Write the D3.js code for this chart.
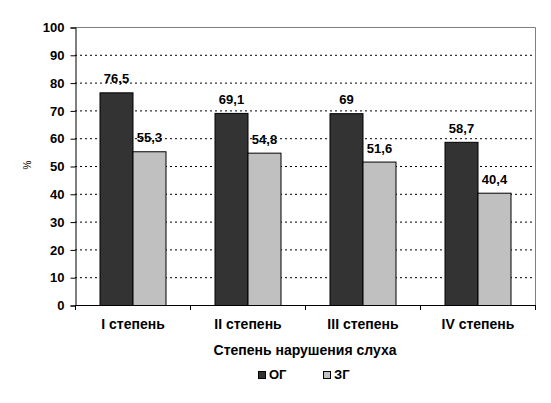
<!DOCTYPE html>
<html><head><meta charset="utf-8">
<script src="https://cdn.jsdelivr.net/npm/d3@7"></script>
<style>body{margin:0;background:#fff;} text{font-family:"Liberation Sans",Arial,sans-serif;font-weight:bold;}</style>
</head><body>
<svg id="c" width="551" height="403"></svg>
<script>
const categories = ["I степень","II степень","III степень","IV степень"];
const seriesNames = ["ОГ","ЗГ"];
const valuesOG = [76.5,69.1,69,58.7];
const valuesZG = [55.3,54.8,51.6,40.4];
const labelsOG = ["76,5","69,1","69","58,7"];
const labelsZG = ["55,3","54,8","51,6","40,4"];
const yTicks = [0,10,20,30,40,50,60,70,80,90,100];
const colors = ["#333333","#c0c0c0"];

const svg = d3.select("#c");
const L=75,R=535,T=27,B=305;
const x = d3.scaleBand().domain(categories).range([L,R]);
const xs = d3.scaleBand().domain(seriesNames).range([0,66]);
const y = d3.scaleLinear().domain([0,100]).range([B,T]);

// gridlines
svg.append("g").selectAll("line").data(yTicks.filter(d=>d>0&&d<100)).join("line")
 .attr("x1",L).attr("x2",R).attr("y1",d=>y(d)+0.5).attr("y2",d=>y(d)+0.5)
 .attr("stroke","#000").attr("stroke-dasharray","2,3");
// border top/right
svg.append("path").attr("d",`M${L},${T+0.5}H${R+0.5}V${B}`).attr("fill","none").attr("stroke","#808080");

const data = categories.map((c,i)=>[{c,s:seriesNames[0],v:valuesOG[i],l:labelsOG[i]},{c,s:seriesNames[1],v:valuesZG[i],l:labelsZG[i]}]).flat();
const bx = d=>x(d.c)+x.bandwidth()/2-33+xs(d.s);
svg.append("g").selectAll("rect").data(data).join("rect")
 .attr("x",d=>bx(d)+0.5).attr("y",d=>y(d.v)+0.5).attr("width",xs.bandwidth()).attr("height",d=>B-y(d.v))
 .attr("fill",d=>colors[seriesNames.indexOf(d.s)]).attr("stroke","#000").attr("stroke-width",1);
svg.append("g").selectAll("text").data(data).join("text")
 .attr("x",d=>bx(d)+xs.bandwidth()/2+0.5).attr("y",d=>y(d.v)-9).attr("text-anchor","middle")
 .attr("font-size",13).text(d=>d.l);

// y axis
const ya = svg.append("g").attr("transform",`translate(${L+0.5},0.5)`)
 .call(d3.axisLeft(y).tickValues(yTicks).tickSize(5).tickPadding(6));
ya.select(".domain").attr("stroke","#000");
ya.selectAll("text").attr("font-size",13).attr("fill","#000").style("font-weight","bold").style("font-family","Liberation Sans, Arial");
// x axis
const xa = svg.append("g").attr("transform",`translate(0.5,${B+0.5})`)
 .call(d3.axisBottom(x).tickSize(0).tickPadding(14));
xa.select(".domain").attr("stroke","#000").attr("d",`M${L},0H${R}`);
xa.selectAll("text").attr("font-size",14).attr("fill","#000").style("font-weight","bold").style("font-family","Liberation Sans, Arial");
svg.append("g").selectAll("line").data(d3.range(categories.length+1)).join("line")
 .attr("x1",i=>L+i*x.step()+0.5).attr("x2",i=>L+i*x.step()+0.5).attr("y1",B).attr("y2",B+5).attr("stroke","#000");

svg.append("text").attr("x",(L+R)/2).attr("y",355).attr("text-anchor","middle").attr("font-size",14).text("Степень нарушения слуха");
svg.append("text").attr("transform","translate(31,165) rotate(-90)").attr("text-anchor","middle").attr("font-size",10).style("font-weight","normal").text("%");

// legend
const lg = svg.append("g");
[[258,seriesNames[0],colors[0]],[323,seriesNames[1],colors[1]]].forEach(([lx,n,c])=>{
 lg.append("rect").attr("x",lx+0.5).attr("y",371.5).attr("width",7).attr("height",7).attr("fill",c).attr("stroke","#000");
 lg.append("text").attr("x",lx+11).attr("y",379).attr("font-size",13).text(n);
});
</script>
</body></html>
